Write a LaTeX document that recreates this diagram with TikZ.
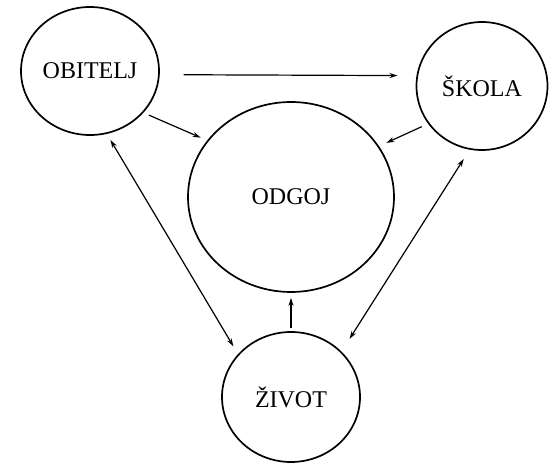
\documentclass[tikz,border=0pt]{standalone}
\usepackage{fontspec}
\setmainfont{Liberation Serif}
\usepackage{tikz}
\usetikzlibrary{arrows.meta,shapes.geometric}

\begin{document}
\begin{tikzpicture}[
  x=1pt, y=1pt,
  bubble/.style={ellipse, draw=black, line width=1.7pt, inner sep=0pt, align=center, font=\fontsize{24}{28}\selectfont},
  arrow/.style={-{Stealth[length=8pt, width=5pt]}, line width=1.2pt},
  twoway/.style={{Stealth[length=8pt, width=5pt]}-{Stealth[length=8pt, width=5pt]}, line width=1.2pt}
]
\useasboundingbox (0,0) rectangle (550,464);

\node[bubble, minimum width=138pt, minimum height=128pt] (obitelj) at (90,393) {OBITELJ};
\node[bubble, minimum width=131pt, minimum height=128pt] (skola) at (482,378) {ŠKOLA};
\node[bubble, minimum width=206pt, minimum height=190pt] (odgoj) at (291,267) {ODGOJ};
\node[bubble, minimum width=138pt, minimum height=130pt] (zivot) at (291,67) {ŽIVOT};

\draw[arrow, shorten <=24pt, shorten >=19pt] (obitelj.-3) -- (skola.171);
\draw[arrow, shorten <=6pt, shorten >=7pt] (obitelj.-38) -- (odgoj.146);
\draw[arrow, shorten <=7pt, shorten >=8pt] (skola.215) -- (odgoj.30);
\draw[arrow, shorten <=3pt, shorten >=5pt] (zivot.north) -- (odgoj.south);
\draw[twoway, shorten <=7pt, shorten >=9pt] (obitelj.-75) -- (zivot.141);
\draw[twoway, shorten <=11pt, shorten >=15pt] (skola.259) -- (zivot.42);

\end{tikzpicture}
\end{document}
